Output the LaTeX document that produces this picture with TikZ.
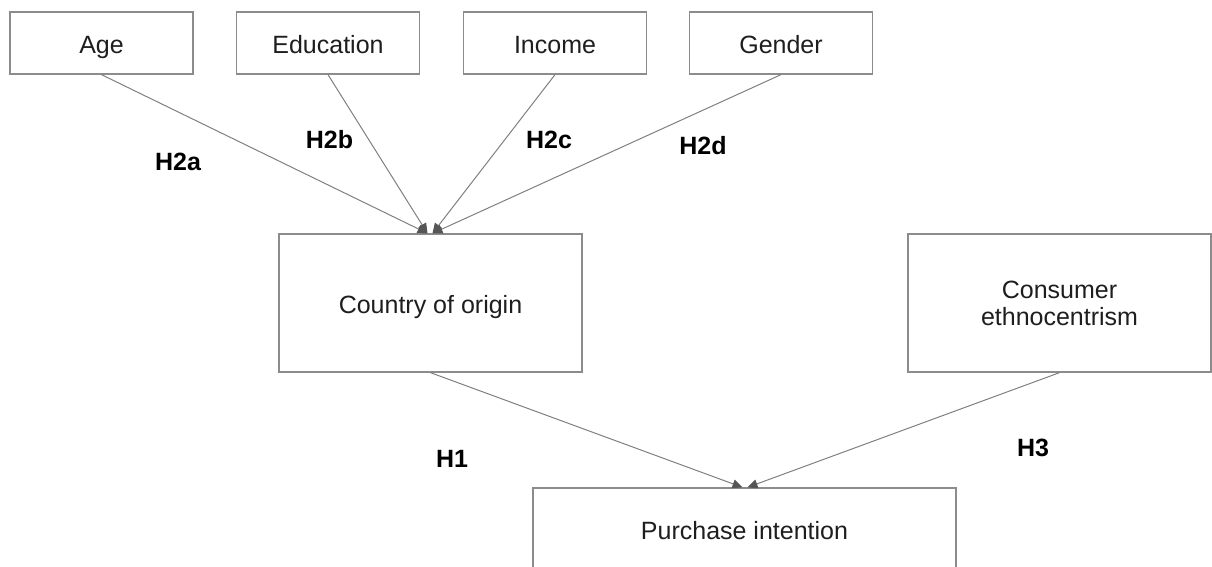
\documentclass[tikz,border=0pt]{standalone}
\usepackage{fontspec}
\setmainfont{Liberation Sans}
\usetikzlibrary{arrows.meta}
\definecolor{boxgray}{RGB}{140,140,140}
\definecolor{linegray}{RGB}{128,128,128}
\definecolor{arrowgray}{RGB}{85,85,85}
\definecolor{txt}{RGB}{30,30,30}
\tikzset{
  varbox/.style={draw=boxgray, line width=1.3pt, fill=white, rectangle, inner sep=0pt,
    text=txt, font=\fontsize{25}{27}\selectfont, text height=20pt, text depth=0pt},
  hyplabel/.style={inner sep=0pt, text=black, font=\fontsize{25}{27}\selectfont\bfseries},
  link/.style={draw=linegray, line width=1pt,
    -{Triangle[length=10pt,width=9pt,color=arrowgray]}},
}
\begin{document}
\begin{tikzpicture}[x=1pt,y=-1pt]
\clip (0,0) rectangle (1212,566);
\fill[white] (0,0) rectangle (1212,566);
% top row
\node[varbox, minimum width=183pt, minimum height=62pt] (age) at (101.5,43) {Age};
\node[varbox, minimum width=183pt, minimum height=62pt] (edu) at (328,43) {Education};
\node[varbox, minimum width=183pt, minimum height=62pt] (inc) at (555,43) {Income};
\node[varbox, minimum width=183pt, minimum height=62pt] (gen) at (781,43) {Gender};
% middle row
\node[varbox, minimum width=303pt, minimum height=138pt] (coo) at (430.5,303) {Country of origin};
\node[varbox, minimum width=303pt, minimum height=138pt, align=center,
      text height=, text depth=] (ce) at (1059.5,303) {Consumer\\ethnocentrism};
% bottom
\node[varbox, minimum width=423pt, minimum height=82pt] (pi) at (744.5,529) {Purchase intention};
% connectors
\draw[link] (age.south) -- ([xshift=-3pt]coo.north);
\draw[link] (edu.south) -- ([xshift=-3pt]coo.north);
\draw[link] (inc.south) -- ([xshift=2pt]coo.north);
\draw[link] (gen.south) -- ([xshift=2pt]coo.north);
\draw[link] (coo.south) -- ([xshift=-2pt]pi.north);
\draw[link] (ce.south) -- ([xshift=3pt]pi.north);
% labels
\node[hyplabel] (h2a) at (178,162) {H2a};
\node[hyplabel] (h2b) at (329.5,140) {H2b};
\node[hyplabel] (h2c) at (549,140) {H2c};
\node[hyplabel] (h2d) at (703,146) {H2d};
\node[hyplabel] (h1) at (452,459) {H1};
\node[hyplabel] (h3) at (1033,448) {H3};
\end{tikzpicture}
\end{document}
